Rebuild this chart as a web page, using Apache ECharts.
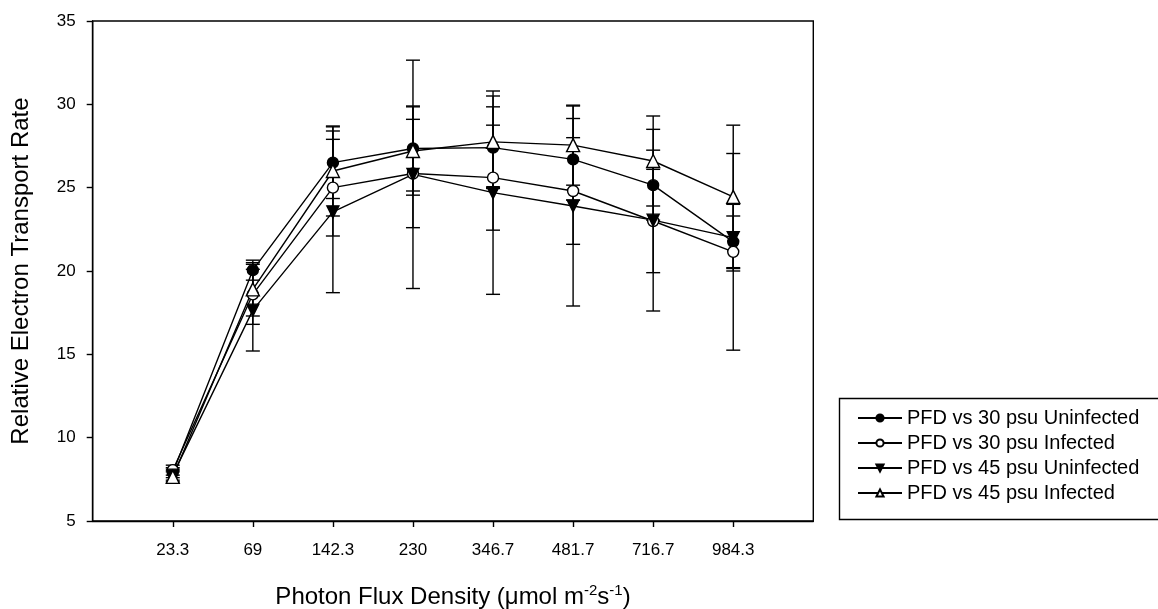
<!DOCTYPE html>
<html>
<head>
<meta charset="utf-8">
<script src="https://cdn.jsdelivr.net/npm/echarts@6/dist/echarts.min.js"></script>
<style>
html,body{margin:0;padding:0;background:#fff;}
#chart{width:1158px;height:609px;}
</style>
</head>
<body>
<div id="chart"></div>
<script>
const categories = ['23.3', '69', '142.3', '230', '346.7', '481.7', '716.7', '984.3'];
const yTicks = [5, 10, 15, 20, 25, 30, 35];

const seriesNames = [
  'PFD vs 30 psu Uninfected',
  'PFD vs 30 psu Infected',
  'PFD vs 45 psu Uninfected',
  'PFD vs 45 psu Infected'
];
const uninf30 = [7.9, 20.05, 26.5, 27.35, 27.4, 26.7, 25.15, 21.75];
const uninf30Err = [0.3, 0.6, 2.15, 2.55, 2.45, 2.45, 2.1, 1.55];
const inf30 = [8.05, 18.6, 25.0, 25.85, 25.6, 24.8, 23.0, 21.15];
const inf30Err = [0.3, 1.8, 2.9, 3.25, 3.15, 3.2, 3.1, 5.9];
const uninf45 = [7.75, 17.65, 23.55, 25.8, 24.7, 23.9, 23.05, 22.0];
const uninf45Err = [0.3, 2.45, 4.85, 6.85, 6.1, 6.0, 5.45, 2.0];
const inf45 = [7.65, 18.9, 26.0, 27.2, 27.75, 27.55, 26.6, 24.45];
const inf45Err = [0.3, 1.6, 2.7, 2.65, 2.75, 2.4, 2.7, 4.3];

const FONT = '"Liberation Sans", Arial, sans-serif';
const axisCats = [''].concat(categories, ['']);
const inner = (i) => i > 0 && i < axisCats.length - 1;

const values = [uninf30, inf30, uninf45, inf45];
const errs = [uninf30Err, inf30Err, uninf45Err, inf45Err];
const symbols = ['circle', 'circle', 'path://M0,0 L10,0 L5,9 Z', 'triangle'];
const fills = ['#000', '#fff', '#000', '#fff'];
const sizes = [11, 11, 12, 13];

function errSeries(vals, err) {
  return {
    type: 'custom',
    silent: true,
    z: 1,
    renderItem: function (params, api) {
      const x = api.value(0);
      const lo = api.coord([x, api.value(1)]);
      const hi = api.coord([x, api.value(2)]);
      const w = 7;
      const st = { stroke: '#000', lineWidth: 1.4 };
      return {
        type: 'group',
        children: [
          { type: 'line', shape: { x1: lo[0], y1: lo[1], x2: hi[0], y2: hi[1] }, style: st },
          { type: 'line', shape: { x1: lo[0] - w, y1: lo[1], x2: lo[0] + w, y2: lo[1] }, style: st },
          { type: 'line', shape: { x1: hi[0] - w, y1: hi[1], x2: hi[0] + w, y2: hi[1] }, style: st }
        ]
      };
    },
    data: vals.map((v, i) => [i + 1, v - err[i], v + err[i]])
  };
}

const series = [];
values.forEach((vals, k) => series.push(errSeries(vals, errs[k])));
values.forEach((vals, k) => {
  series.push({
    name: seriesNames[k],
    type: 'line',
    z: 3,
    data: vals.map((v, i) => [i + 1, v]),
    symbol: symbols[k],
    symbolSize: sizes[k],
    showAllSymbol: true,
    lineStyle: { color: '#000', width: 1.4 },
    itemStyle: { color: fills[k], borderColor: '#000', borderWidth: 1.4, opacity: 1 },
    emphasis: { disabled: true },
    animation: false
  });
});

const chart = echarts.init(document.getElementById('chart'), null, { renderer: 'canvas' });
chart.setOption({
  animation: false,
  backgroundColor: '#fff',
  grid: {
    left: 92.7, right: 344.7, top: 21, bottom: 88,
    containLabel: false,
    outerBoundsMode: 'none',
    show: true, borderColor: '#000', borderWidth: 1.4, backgroundColor: 'transparent'
  },
  legend: {
    orient: 'vertical',
    left: 852, top: 403,
    itemWidth: 44, itemHeight: 9, itemGap: 5,
    data: seriesNames,
    textStyle: { fontFamily: FONT, fontSize: 20, color: '#000' },
    selectedMode: false
  },
  graphic: [{
    type: 'rect', left: 837, top: 396, z: 10,
    shape: { width: 340, height: 121 },
    style: { fill: 'none', stroke: '#000', lineWidth: 1.4 }
  }],
  xAxis: {
    type: 'category',
    data: axisCats,
    boundaryGap: false,
    axisLine: { lineStyle: { color: '#000', width: 1.4 } },
    axisTick: { length: 6, interval: (i) => inner(i), lineStyle: { color: '#000', width: 1.4 } },
    axisLabel: { interval: (i) => inner(i), margin: 21, color: '#000', fontFamily: FONT, fontSize: 17 },
    splitLine: { show: false },
    name: 'Photon Flux Density ({mu|\u03bc}mol m{sup|-2}s{sup|-1})',
    nameLocation: 'middle',
    nameGap: 62,
    nameTextStyle: {
      fontFamily: FONT, fontSize: 24, color: '#000',
      rich: {
        mu: { fontFamily: FONT, fontSize: 24, color: '#000' },
        sup: { fontFamily: FONT, fontSize: 15, color: '#000', padding: [0, 0, 13, 0] }
      }
    }
  },
  yAxis: {
    type: 'value',
    min: 5, max: 35, interval: 5,
    axisLine: { show: true, lineStyle: { color: '#000', width: 1.4 } },
    axisTick: { show: true, length: 6, lineStyle: { color: '#000', width: 1.4 } },
    axisLabel: { margin: 17, color: '#000', fontFamily: FONT, fontSize: 17,
      formatter: (v) => (yTicks.indexOf(v) >= 0 ? String(v) : '') },
    splitLine: { show: false },
    name: 'Relative Electron Transport Rate',
    nameLocation: 'middle',
    nameGap: 59,
    nameTextStyle: { fontFamily: FONT, fontSize: 24, color: '#000' }
  },
  series: series
});
</script>
</body>
</html>
